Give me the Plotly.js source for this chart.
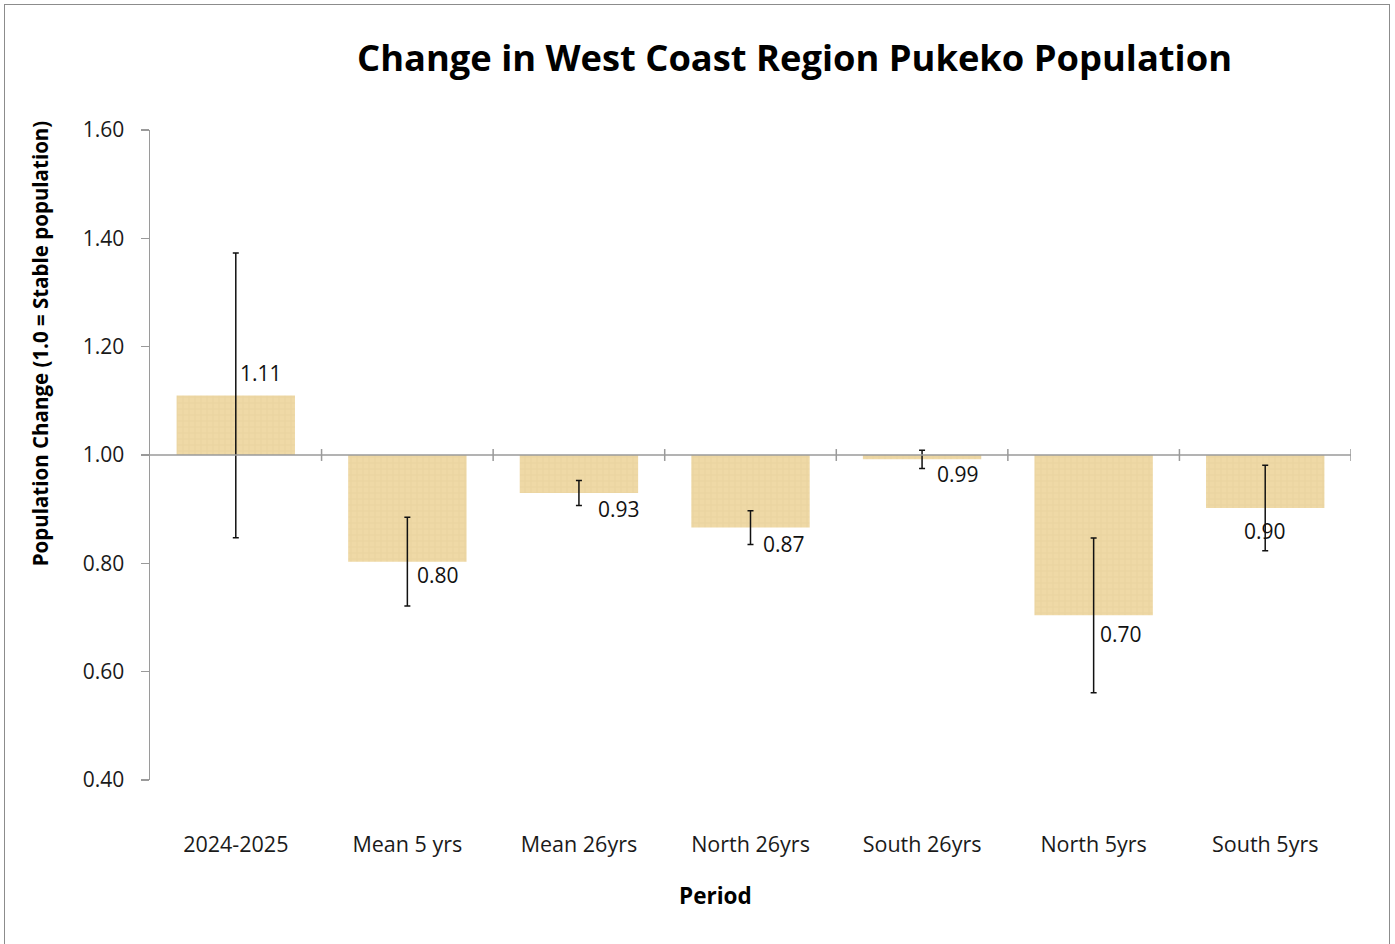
<!DOCTYPE html>
<html>
<head>
<meta charset="utf-8">
<script src="https://cdn.plot.ly/plotly-3.0.1.min.js"></script>
<style>
  html, body { margin: 0; padding: 0; background: #fff; }
  #chart { position: absolute; left: 0; top: 0; width: 1395px; height: 944px; }
  #frame { position: absolute; left: 4px; top: 4px; width: 1384px; height: 960px;
           border: 1.5px solid #8c8c8c; pointer-events: none; }
</style>
</head>
<body>
<div id="chart"></div>
<div id="frame"></div>
<script>
// ---- data ----
const categories = ["2024-2025", "Mean 5 yrs", "Mean 26yrs", "North 26yrs", "South 26yrs", "North 5yrs", "South 5yrs"];
const changeValues = [1.11, 0.803, 0.93, 0.866, 0.992, 0.704, 0.902];
const errorValues = [0.263, 0.082, 0.023, 0.031, 0.017, 0.143, 0.079];
const yTickValues = [0.40, 0.60, 0.80, 1.00, 1.20, 1.40, 1.60];
const stableLevel = 1.0;

// ---- label offsets (style) ----
const labelXShift = [25, 31, 40, 33, 36, 27, 0];
const labelYShift = [22, -13, -16, -16, -15, -19, -23];

const FONT = "Open Sans, Lato, sans-serif";
const barColor = "#efd9a6";

const barTrace = {
  type: "bar",
  x: categories,
  y: changeValues.map(v => v - stableLevel),
  base: categories.map(() => stableLevel),
  marker: {
    color: barColor,
    line: { width: 0 },
    pattern: { shape: "+", bgcolor: barColor, fgcolor: "#d9bd80", fgopacity: 0.45, size: 6, solidity: 0.12, fillmode: "replace" }
  },
  hoverinfo: "skip",
  showlegend: false
};

const errTrace = {
  type: "scatter",
  mode: "markers",
  x: categories,
  y: changeValues,
  marker: { size: 1, opacity: 0 },
  error_y: { type: "data", array: errorValues, visible: true, color: "#111", thickness: 1.5, width: 3 },
  hoverinfo: "skip",
  showlegend: false
};

const shapes = [];
// horizontal axis line at the stable level
shapes.push({ type: "line", xref: "paper", yref: "y", x0: 0, x1: 1, y0: stableLevel, y1: stableLevel,
  line: { color: "#9a9a9a", width: 1.5 }, layer: "above" });
// category boundary tick marks crossing the line
for (let i = 0; i < categories.length; i++) {
  shapes.push({ type: "line", xref: "x", yref: "y", x0: i + 0.5, x1: i + 0.5,
    y0: stableLevel - 0.011, y1: stableLevel + 0.011, line: { color: "#9a9a9a", width: 1.5 } });
}

const annotations = changeValues.map((v, i) => ({
  x: categories[i], y: v, xref: "x", yref: "y",
  text: v.toFixed(2), showarrow: false,
  xanchor: "center", yanchor: "middle",
  xshift: labelXShift[i], yshift: labelYShift[i],
  font: { family: FONT, size: 21, color: "#111" }
}));
annotations.push({
  text: "<b>Population Change (1.0 = Stable population)</b>",
  xref: "paper", yref: "paper", x: -0.0915, y: 0.672, textangle: -90,
  showarrow: false, xanchor: "center", yanchor: "middle",
  font: { family: FONT, size: 20.5, color: "#000" }
});
annotations.push({
  text: "<b>Period</b>",
  xref: "paper", yref: "paper", x: 0.471, y: -0.177,
  showarrow: false, xanchor: "center", yanchor: "middle",
  font: { family: FONT, size: 22.5, color: "#000" }
});
annotations.push({
  text: "<b>Change in West Coast Region Pukeko Population</b>",
  xref: "paper", yref: "paper", x: 0.537, y: 1.112,
  showarrow: false, xanchor: "center", yanchor: "middle",
  font: { family: FONT, size: 36.3, color: "#000" }
});

const layout = {
  width: 1395, height: 944,
  margin: { l: 150, r: 44, t: 130, b: 164 },
  paper_bgcolor: "#fff", plot_bgcolor: "rgba(0,0,0,0)",
  bargap: 0.31,
  xaxis: {
    type: "category",
    range: [-0.5, categories.length - 0.5],
    showline: false, showgrid: false, zeroline: false,
    ticks: "", ticklabelstandoff: 49,
    tickfont: { family: FONT, size: 21.5, color: "#1a1a1a" },
    fixedrange: true
  },
  yaxis: {
    range: [0.40, 1.60],
    tickvals: yTickValues,
    ticktext: yTickValues.map(v => v.toFixed(2)),
    showline: true, linecolor: "#9a9a9a", linewidth: 1.5,
    ticks: "outside", ticklen: 8, tickcolor: "#9a9a9a", tickwidth: 1.5,
    ticklabelstandoff: 12,
    showgrid: false, zeroline: false,
    tickfont: { family: FONT, size: 21, color: "#1a1a1a" },
    fixedrange: true
  },
  shapes: shapes,
  annotations: annotations
};

Plotly.newPlot("chart", [barTrace, errTrace], layout, { displayModeBar: false, staticPlot: true });
</script>
</body>
</html>
